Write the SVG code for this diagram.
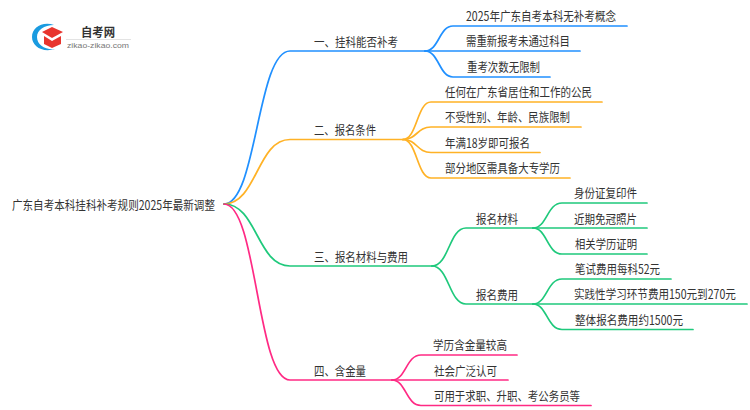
<svg xmlns="http://www.w3.org/2000/svg" width="750" height="410" viewBox="0 0 750 410">
<style>
text{font-family:"Noto Sans CJK SC","Noto Sans",sans-serif;font-size:12.5px;fill:#333;dominant-baseline:central;}
path{fill:none;stroke-width:1.7;stroke-linecap:round}
.b{stroke:#2090ff}.o{stroke:#ffb226}.g{stroke:#1fc97c}.p{stroke:#ff2a84}
</style>
<rect width="750" height="410" fill="#fff"/>
<g id="logo">
<path style="fill:#1a9be0;stroke:none" d="M54 25C42 21 32 28 32 37C32 46 42 53 55 49C45 50 37 45 37 37C37 30 44 25 54 25Z"/>
<polygon points="42,32 52,27 63,32 52,38" fill="#e8352e"/>
<polygon points="44,36 52,41 61,36 61,44 52,48 44,44" fill="#e8352e"/>
<text x="81" y="31" style="font-size:12px;font-weight:700" textLength="34" lengthAdjust="spacingAndGlyphs">自考网</text>
<rect x="66" y="39" width="65" height="0.800" fill="#ddd"/>
<text x="67" y="45" style="font-size:7.500px;fill:#777;font-family:'Liberation Sans',sans-serif" textLength="62" lengthAdjust="spacingAndGlyphs">zikao-zikao.com</text>
</g>
<g id="connectors">
<path class="b" d="M224 204C257 204 257 51 290 51H425"/>
<path class="o" d="M224 204C257 204 257 139.500 290 139.500H403"/>
<path class="g" d="M224 204C257 204 257 266 290 266H432"/>
<path class="p" d="M224 204C257 204 257 380 290 380H392"/>
<path class="b" d="M425 51C439 51 439 26 453 26H627"/>
<path class="b" d="M425 51H580"/>
<path class="b" d="M425 51C439 51 439 77 453 77H550"/>
<path class="o" d="M403 139.500C417 139.500 417 102 431 102H602"/>
<path class="o" d="M403 139.500C417 139.500 417 127 431 127H581"/>
<path class="o" d="M403 139.500C417 139.500 417 152.500 431 152.500H540"/>
<path class="o" d="M403 139.500C417 139.500 417 178 431 178H570"/>
<path class="g" d="M432 266C449 266 449 228 466 228H533"/>
<path class="g" d="M432 266C449 266 449 304 466 304H533"/>
<path class="g" d="M533 228C547 228 547 203 562 203H647"/>
<path class="g" d="M533 228H647"/>
<path class="g" d="M533 228C547 228 547 254 562 254H647"/>
<path class="g" d="M533 304C547 304 547 279 562 279H671"/>
<path class="g" d="M533 304H747"/>
<path class="g" d="M533 304C547 304 547 329.500 562 329.500H693"/>
<path class="p" d="M392 380C406 380 406 355 421 355H517"/>
<path class="p" d="M392 380H508"/>
<path class="p" d="M392 380C406 380 406 405.500 421 405.500H591"/>
</g>
<g id="root"><text x="12" y="204" textLength="203" lengthAdjust="spacingAndGlyphs">广东自考本科挂科补考规则2025年最新调整</text></g>
<g id="n1"><text x="314" y="41" textLength="84" lengthAdjust="spacingAndGlyphs">一、挂科能否补考</text></g>
<g id="n1a"><text x="466" y="15" textLength="150" lengthAdjust="spacingAndGlyphs">2025年广东自考本科无补考概念</text></g>
<g id="n1b"><text x="466" y="40.500" textLength="104" lengthAdjust="spacingAndGlyphs">需重新报考未通过科目</text></g>
<g id="n1c"><text x="467" y="66" textLength="73" lengthAdjust="spacingAndGlyphs">重考次数无限制</text></g>
<g id="n2"><text x="314" y="129" textLength="62" lengthAdjust="spacingAndGlyphs">二、报名条件</text></g>
<g id="n2a"><text x="445" y="91" textLength="147" lengthAdjust="spacingAndGlyphs">任何在广东省居住和工作的公民</text></g>
<g id="n2b"><text x="445" y="116.500" textLength="125" lengthAdjust="spacingAndGlyphs">不受性别、年龄、民族限制</text></g>
<g id="n2c"><text x="445" y="142" textLength="85" lengthAdjust="spacingAndGlyphs">年满18岁即可报名</text></g>
<g id="n2d"><text x="445" y="167" textLength="115" lengthAdjust="spacingAndGlyphs">部分地区需具备大专学历</text></g>
<g id="n3"><text x="314" y="256" textLength="94" lengthAdjust="spacingAndGlyphs">三、报名材料与费用</text></g>
<g id="n3a"><text x="476" y="218" textLength="42" lengthAdjust="spacingAndGlyphs">报名材料</text></g>
<g id="n3a1"><text x="574" y="192" textLength="63" lengthAdjust="spacingAndGlyphs">身份证复印件</text></g>
<g id="n3a2"><text x="574" y="218" textLength="63" lengthAdjust="spacingAndGlyphs">近期免冠照片</text></g>
<g id="n3a3"><text x="575" y="243" textLength="62" lengthAdjust="spacingAndGlyphs">相关学历证明</text></g>
<g id="n3b"><text x="476" y="294" textLength="42" lengthAdjust="spacingAndGlyphs">报名费用</text></g>
<g id="n3b1"><text x="575" y="268.500" textLength="85" lengthAdjust="spacingAndGlyphs">笔试费用每科52元</text></g>
<g id="n3b2"><text transform="translate(574 294) scale(.845 1)" x="0" y="0">实践性学习环节费用150元到270元</text></g>
<g id="n3b3"><text x="575" y="319" textLength="108" lengthAdjust="spacingAndGlyphs">整体报名费用约1500元</text></g>
<g id="n4"><text x="314" y="370" textLength="52" lengthAdjust="spacingAndGlyphs">四、含金量</text></g>
<g id="n4a"><text x="433" y="344" textLength="74" lengthAdjust="spacingAndGlyphs">学历含金量较高</text></g>
<g id="n4b"><text x="434" y="370" textLength="63" lengthAdjust="spacingAndGlyphs">社会广泛认可</text></g>
<g id="n4c"><text x="434" y="395" textLength="146" lengthAdjust="spacingAndGlyphs">可用于求职、升职、考公务员等</text></g>
</svg>
